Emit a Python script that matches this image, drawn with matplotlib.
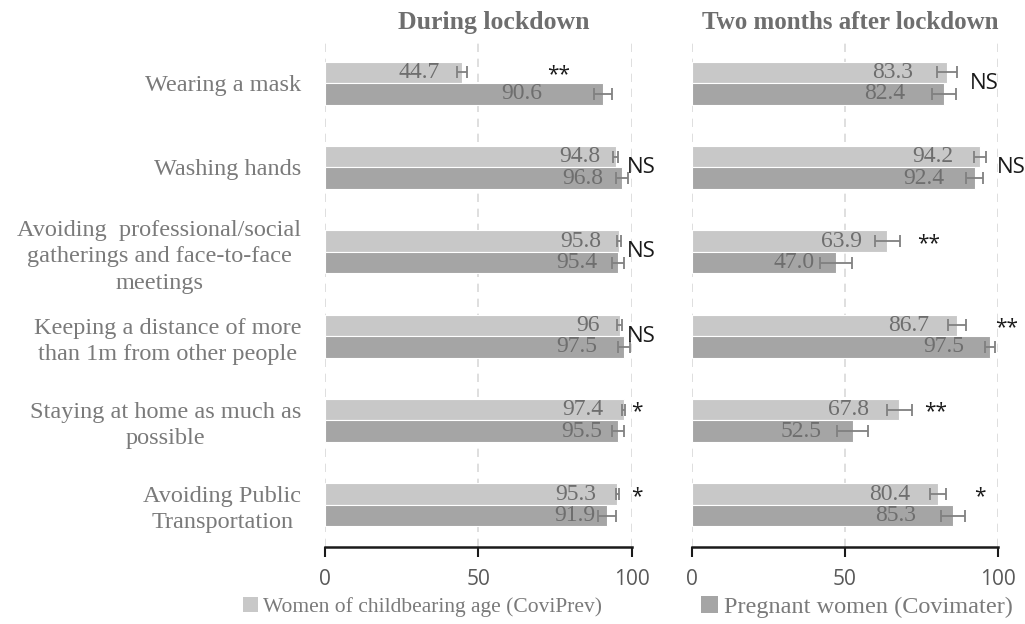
import matplotlib
matplotlib.use("Agg")
import matplotlib.pyplot as plt
import numpy as np
from matplotlib.patches import Patch

categories = [
    "Wearing a mask",
    "Washing hands",
    "Avoiding  professional/social\ngatherings and face-to-face\nmeetings",
    "Keeping a distance of more\nthan 1m from other people",
    "Staying at home as much as\npossible",
    "Avoiding Public\nTransportation",
]
series_names = ["Women of childbearing age (CoviPrev)", "Pregnant women (Covimater)"]
panel_titles = ["During lockdown", "Two months after lockdown"]

# During lockdown
during_coviprev = [44.7, 94.8, 95.8, 96.0, 97.4, 95.3]
during_coviprev_lbl = ["44.7", "94.8", "95.8", "96", "97.4", "95.3"]
during_coviprev_err = [1.6, 0.8, 0.7, 0.7, 0.5, 0.5]
during_covimater = [90.6, 96.8, 95.4, 97.5, 95.5, 91.9]
during_covimater_lbl = ["90.6", "96.8", "95.4", "97.5", "95.5", "91.9"]
during_covimater_err = [3.0, 2.0, 2.0, 2.0, 2.0, 2.8]
during_sig = ["**", "NS", "NS", "NS", "*", "*"]

# Two months after lockdown
after_coviprev = [83.3, 94.2, 63.9, 86.7, 67.8, 80.4]
after_coviprev_lbl = ["83.3", "94.2", "63.9", "86.7", "67.8", "80.4"]
after_coviprev_err = [3.3, 1.9, 4.1, 2.9, 4.0, 2.5]
after_covimater = [82.4, 92.4, 47.0, 97.5, 52.5, 85.3]
after_covimater_lbl = ["82.4", "92.4", "47.0", "97.5", "52.5", "85.3"]
after_covimater_err = [4.0, 2.9, 5.2, 1.7, 5.2, 3.9]
after_sig = ["NS", "NS", "**", "**", "**", "*"]

xticks = [0, 50, 100]

# annotation placement (x of significance marks, label offsets in pixels)
during_sig_x = [76, 103, 103, 103, 101.5, 101.5]
after_sig_x = [95.5, 104.5, 77.5, 103, 79.5, 94]
during_lbl_off = ([-22, -16, -18, -20, -21, -21], [-61, -19, -20, -27, -16, -12])
after_lbl_off = ([-34, -27, -25, -28, -30, -28], [-39, -30, -21, -26, -31, -37])

LIGHT = "#c8c8c8"
DARK = "#a5a5a5"
TXT = "#7a7a7a"
VAL = "#6e6e6e"
SERIF = ["Liberation Serif", "DejaVu Serif"]
SANS = ["Open Sans", "DejaVu Sans"]

fig = plt.figure(figsize=(10.25, 6.24), dpi=100)
ax1 = fig.add_axes([0.317, 0.1234, 0.2995, 0.8109])
ax2 = fig.add_axes([0.675, 0.1234, 0.2985, 0.8109])

y = np.arange(len(categories))
h = 0.255

panels = [
    (ax1, during_coviprev, during_coviprev_lbl, during_coviprev_err,
     during_covimater, during_covimater_lbl, during_covimater_err, during_sig, during_sig_x,
     during_lbl_off),
    (ax2, after_coviprev, after_coviprev_lbl, after_coviprev_err,
     after_covimater, after_covimater_lbl, after_covimater_err, after_sig, after_sig_x,
     after_lbl_off),
]

for i, (ax, v1, l1, e1, v2, l2, e2, sig, sigx, offs) in enumerate(panels):
    ax.set_xlim(0, 100)
    ax.set_ylim(len(categories) - 0.5, -0.5)
    for g in xticks:
        ax.axvline(g, color="#d9d9d9", lw=1.2, ls=(0, (5, 4)), zorder=0)
    ax.barh(y - h / 2, v1, height=h, color=LIGHT, edgecolor="white", lw=0.8, zorder=2)
    ax.barh(y + h / 2, v2, height=h, color=DARK, edgecolor="white", lw=0.8, zorder=2)
    ax.errorbar(v1, y - h / 2, xerr=e1, fmt="none", ecolor="#808080", elinewidth=1.3,
                capsize=4, capthick=1.3, zorder=3)
    ax.errorbar(v2, y + h / 2, xerr=e2, fmt="none", ecolor="#808080", elinewidth=1.3,
                capsize=4, capthick=1.3, zorder=3)
    for yy, v, lab, off in zip(y - h / 2, v1, l1, offs[0]):
        ax.annotate(lab, (v, yy), xytext=(off, 0), textcoords="offset pixels",
                    ha="right", va="center", fontsize=17, color=VAL, family=SERIF, zorder=4)
    for yy, v, lab, off in zip(y + h / 2, v2, l2, offs[1]):
        ax.annotate(lab, (v, yy), xytext=(off, 0), textcoords="offset pixels",
                    ha="right", va="center", fontsize=17, color=VAL, family=SERIF, zorder=4)
    for yy, s, sx in zip(y, sig, sigx):
        yo = -0.1 if s.startswith("*") else 0
        ax.text(sx, yy + yo, s, ha="center", va="center", fontsize=16 if s == "NS" else 15,
                color="#1a1a1a", family=SANS, clip_on=False, zorder=5)
    for sp in ["top", "right", "left"]:
        ax.spines[sp].set_visible(False)
    ax.spines["bottom"].set_linewidth(1.8)
    ax.spines["bottom"].set_color("#1a1a1a")
    ax.set_xticks(xticks)
    ax.set_xticklabels([str(t) for t in xticks], family=SANS, fontsize=15, color="#595959")
    ax.tick_params(axis="x", direction="out", length=7, width=1.5, color="#1a1a1a", pad=9)
    ax.set_yticks(y)
    if i == 0:
        ax.set_yticklabels(categories, family=SERIF, fontsize=17.5, color=TXT,
                           linespacing=1.32)
        for lbl in ax.get_yticklabels():
            lbl.set_multialignment("center")
        ax.tick_params(axis="y", length=0, pad=17)
    else:
        ax.set_yticklabels([])
        ax.tick_params(axis="y", length=0)

fig.text(0.482, 0.964, panel_titles[0], ha="center", va="center", fontsize=18.5,
         fontweight="bold", color="#6e6e6e", family=SERIF)
fig.text(0.830, 0.964, panel_titles[1], ha="center", va="center", fontsize=18,
         fontweight="bold", color="#6e6e6e", family=SERIF)

h1 = Patch(facecolor=LIGHT, edgecolor="none")
h2 = Patch(facecolor=DARK, edgecolor="none")
leg1 = fig.legend([h1], [series_names[0]], loc="center left", bbox_to_anchor=(0.237, 0.027),
                  frameon=False, prop={"family": SERIF, "size": 15.5}, handlelength=0.7,
                  handleheight=0.7, handletextpad=0.25, borderaxespad=0, borderpad=0,
                  labelcolor=TXT)
leg2 = fig.legend([h2], [series_names[1]], loc="center left", bbox_to_anchor=(0.684, 0.027),
                  frameon=False, prop={"family": SERIF, "size": 17.5}, handlelength=0.7,
                  handleheight=0.7, handletextpad=0.25, borderaxespad=0, borderpad=0,
                  labelcolor=TXT)

fig.savefig("out.png", dpi=100)
